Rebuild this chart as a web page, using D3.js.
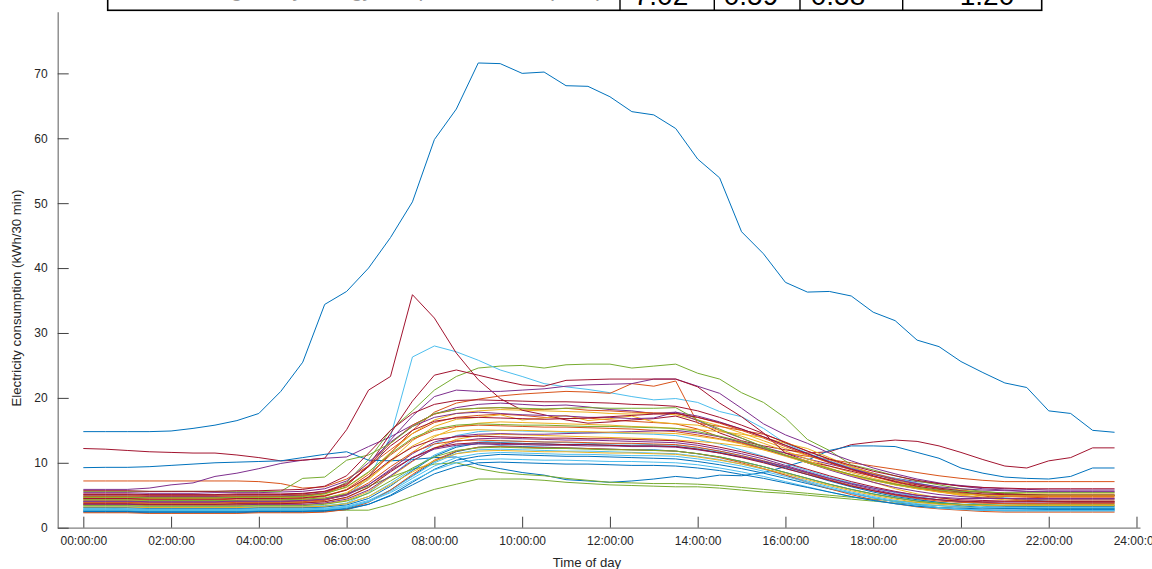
<!DOCTYPE html>
<html>
<head>
<meta charset="utf-8">
<script src="https://cdn.jsdelivr.net/npm/d3@7"></script>
<style>
  html, body { margin: 0; padding: 0; background: #fff; }
  svg { display: block; }
  text { font-family: "Liberation Sans", Arial, Helvetica, sans-serif; }
</style>
</head>
<body>
<svg id="chart" width="1152" height="569"></svg>
<script>
// Half-hourly sample times (one value per slot, 48 slots per day)
const times = ["00:00","00:30","01:00","01:30","02:00","02:30","03:00","03:30","04:00","04:30",
  "05:00","05:30","06:00","06:30","07:00","07:30","08:00","08:30","09:00","09:30",
  "10:00","10:30","11:00","11:30","12:00","12:30","13:00","13:30","14:00","14:30",
  "15:00","15:30","16:00","16:30","17:00","17:30","18:00","18:30","19:00","19:30",
  "20:00","20:30","21:00","21:30","22:00","22:30","23:00","23:30"];

const xTickLabels = ["00:00:00","02:00:00","04:00:00","06:00:00","08:00:00","10:00:00",
  "12:00:00","14:00:00","16:00:00","18:00:00","20:00:00","22:00:00","24:00:00"];
const yTickValues = [0, 10, 20, 30, 40, 50, 60, 70];

// Summary table row shown above the axes
const tableRowLabel = "Average daily energy use per customer (kWh)";
const tableRowValues = ["7.02", "0.59", "0.58", "1.20"];

// Electricity consumption profiles (kWh per 30 min), one array per customer
const s00 = [14.8,14.8,14.8,14.8,14.9,15.3,15.8,16.5,17.6,21.0,25.5,34.4,36.4,40.0,44.7,50.2,59.8,64.5,71.6,71.5,70.0,70.2,68.1,68.0,66.4,64.1,63.6,61.5,56.8,53.9,45.6,42.2,37.8,36.3,36.4,35.7,33.2,31.9,28.9,27.9,25.6,23.9,22.3,21.6,18.0,17.6,15.0,14.7];
const s01 = [7.2,7.2,7.2,7.2,7.2,7.2,7.2,7.2,7.1,6.8,6.1,6.3,7.5,9.5,12.0,14.5,16.2,17.0,17.3,17.5,17.3,17.0,16.8,16.9,16.6,16.4,16.2,16.0,15.2,14.0,13.1,12.2,11.5,11.0,10.5,10.0,9.5,9.0,8.5,8.0,7.6,7.3,7.1,7.1,7.1,7.1,7.1,7.1];
const s02 = [5.0,5.0,5.0,4.9,4.9,4.9,4.9,5.0,5.0,5.0,5.1,5.3,6.2,8.5,11.6,14.5,16.6,17.6,18.0,18.2,18.1,18.0,17.9,17.8,17.6,17.5,17.6,17.4,16.6,15.7,14.6,13.4,12.2,11.1,10.1,9.2,8.3,7.5,6.8,6.2,5.8,5.5,5.3,5.2,5.2,5.2,5.2,5.2];
const s03 = [5.9,5.9,5.9,6.1,6.6,6.9,7.9,8.4,9.1,9.9,10.4,10.7,10.9,12.5,14.0,15.8,17.5,18.5,19.0,19.2,19.0,18.8,18.9,18.6,18.2,18.0,17.6,17.8,16.5,15.0,13.8,12.4,11.5,10.6,9.8,9.0,8.2,7.6,7.1,6.8,6.5,6.2,6.0,5.9,5.8,5.8,5.8,5.8];
const s04 = [4.6,4.6,4.6,4.6,4.6,4.6,4.6,4.7,4.7,4.8,4.9,5.3,7.0,10.5,15.0,18.0,21.2,23.3,24.6,24.9,25.0,24.6,25.1,25.2,25.2,24.6,24.9,25.2,23.8,22.9,20.8,19.3,16.9,13.6,11.9,9.7,8.9,8.0,7.2,6.6,6.0,5.6,5.3,5.1,5.0,5.0,5.0,5.0];
const s05 = [4.0,4.0,4.0,4.0,4.0,4.0,4.0,4.0,4.0,4.1,4.2,4.4,5.0,7.5,14.0,26.3,28.0,27.1,25.8,24.3,23.3,22.2,21.7,21.3,20.8,20.2,19.7,19.9,19.3,17.9,17.1,15.3,13.0,11.5,10.3,9.2,8.4,7.6,6.9,6.2,5.6,5.0,4.6,4.3,4.1,4.0,4.0,4.0];
const s06 = [12.2,12.1,11.9,11.7,11.6,11.5,11.5,11.2,10.8,10.3,10.4,10.7,15.1,21.2,23.3,35.9,32.3,26.9,22.8,19.9,18.1,17.4,16.6,16.1,16.3,16.6,16.8,17.2,16.2,14.6,13.4,12.6,12.0,11.5,11.7,12.8,13.2,13.5,13.3,12.6,11.6,10.5,9.5,9.2,10.3,10.8,12.3,12.3];
const s07 = [9.25,9.3,9.3,9.4,9.6,9.8,10.0,10.1,10.2,10.3,10.8,11.3,11.7,10.4,10.3,10.5,10.8,10.9,9.7,9.1,8.5,8.1,7.4,7.2,7.0,7.2,7.5,7.9,7.6,8.1,8.0,8.5,9.4,10.4,11.9,12.6,12.6,12.5,11.6,10.7,9.2,8.4,7.8,7.6,7.5,7.9,9.2,9.2];
const s08 = [3.6,3.6,3.6,3.6,3.6,3.6,3.6,3.6,3.6,3.7,3.8,4.2,5.2,7.8,11.5,15.0,17.8,19.2,19.8,20.3,20.6,20.8,21.0,20.9,20.7,22.2,21.8,22.6,16.1,15.6,15.0,14.4,13.2,11.8,10.5,9.4,8.4,7.5,6.7,6.0,5.4,4.9,4.5,4.2,4.0,3.9,3.9,3.9];
const s09 = [4.2,4.2,4.2,4.1,4.1,4.1,4.1,4.1,4.2,4.2,4.3,4.5,5.4,7.4,10.3,13.4,15.6,16.7,17.0,17.4,16.6,16.9,17.3,16.5,16.8,17.2,16.3,16.0,15.8,15.0,14.1,13.0,11.8,10.6,9.5,8.5,7.6,6.8,6.1,5.5,5.0,4.6,4.3,4.1,4.0,4.0,4.0,4.0];
const s10 = [4.9,4.9,4.9,4.8,4.8,4.8,4.8,4.9,4.9,4.9,5.0,5.4,6.6,9.4,13.5,17.2,20.2,21.2,21.0,21.0,21.2,21.4,21.8,22.0,22.1,22.2,22.9,22.9,21.8,20.7,18.4,16.0,14.3,13.0,11.5,10.3,9.2,8.3,7.5,6.9,6.4,6.0,5.8,5.6,5.5,5.5,5.5,5.5];
const s11 = [2.7,2.7,2.7,2.7,2.7,2.7,2.7,2.7,2.7,2.7,2.7,2.7,2.7,2.7,3.6,4.8,5.9,6.7,7.5,7.5,7.5,7.3,7.0,6.8,6.6,6.5,6.4,6.3,6.3,6.1,5.8,5.5,5.3,5.0,4.7,4.4,4.1,3.8,3.6,3.4,3.2,3.1,3.0,3.0,3.0,3.0,3.0,3.0];
const s12 = [3.0,3.0,2.9,2.9,2.9,2.9,2.9,2.9,3.0,3.0,3.0,3.2,3.8,5.4,7.9,10.6,12.9,14.2,14.8,15.0,14.9,14.8,14.7,14.6,14.6,14.5,14.4,14.2,13.6,12.9,12.0,11.0,9.9,8.8,7.8,6.9,6.1,5.4,4.8,4.3,3.9,3.6,3.4,3.3,3.2,3.2,3.2,3.2];
const s13 = [5.2,5.2,5.2,5.1,5.1,5.1,5.1,5.2,5.2,5.2,5.3,5.6,6.5,9.5,14.5,19.5,23.5,24.3,23.5,22.7,22.0,21.8,22.7,22.8,22.9,22.9,22.9,22.9,21.7,19.2,17.1,14.6,11.5,10.2,9.5,8.7,7.9,7.2,6.6,6.1,5.7,5.4,5.2,5.1,5.0,5.0,5.0,5.0];
const s14 = [2.6,2.6,2.6,2.5,2.5,2.5,2.5,2.5,2.6,2.6,2.6,2.7,3.0,4.0,5.8,8.0,10.2,11.7,12.4,12.6,12.5,12.4,12.3,12.2,12.1,12.0,12.0,11.8,11.4,10.9,10.2,9.4,8.5,7.6,6.7,5.9,5.2,4.6,4.1,3.7,3.4,3.1,3.0,2.9,2.8,2.8,2.8,2.8];
const s15 = [4.8,4.8,4.8,4.7,4.7,4.7,4.7,4.8,4.8,4.8,4.9,5.3,6.6,9.6,13.0,15.8,17.5,18.2,18.4,18.5,18.3,18.2,18.4,18.1,18.0,17.8,17.7,17.6,17.0,16.1,15.0,13.8,12.5,11.2,10.0,8.9,7.9,7.0,6.3,5.7,5.3,5.0,4.8,4.7,4.6,4.6,4.6,4.6];
const s16 = [3.8,3.8,3.8,3.7,3.7,3.7,3.7,3.7,3.8,3.8,3.9,4.0,4.6,6.2,8.8,11.6,14.0,15.5,16.1,16.3,16.2,16.1,16.0,15.9,15.8,15.6,15.5,15.3,15.1,14.8,14.4,13.9,13.0,12.2,10.8,9.4,8.3,7.3,6.4,5.6,5.0,4.7,4.5,4.4,4.3,4.3,4.3,4.3];
const s17 = [5.4,5.4,5.4,5.3,5.3,5.3,5.4,5.4,5.4,5.5,5.6,6.0,7.2,10.0,13.2,15.6,17.0,17.6,17.8,17.6,17.4,17.3,17.2,17.0,17.0,16.8,16.9,17.8,17.2,16.3,15.2,14.0,12.7,11.4,10.2,9.1,8.2,7.4,6.8,6.3,6.0,5.8,5.7,5.6,5.6,5.6,5.6,5.6];
const s18 = [5.6,5.6,5.6,5.6,5.6,5.6,5.6,5.6,5.6,5.6,7.6,7.8,10.4,11.2,13.0,15.6,17.6,18.2,18.4,18.5,18.4,18.3,18.4,18.5,18.4,18.4,18.4,18.5,16.6,15.2,13.8,12.5,11.2,10.0,9.0,8.1,7.3,6.6,6.0,5.6,5.3,5.1,5.0,5.0,5.0,5.0,5.0,5.0];
const s19 = [3.3,3.3,3.3,3.2,3.2,3.2,3.2,3.2,3.3,3.3,3.3,3.4,3.7,4.8,6.8,9.0,11.2,12.6,13.2,13.4,13.3,13.2,13.1,13.0,12.9,12.9,12.8,12.7,12.3,11.8,11.1,10.3,9.4,8.4,7.4,6.5,5.7,5.0,4.4,3.9,3.5,3.3,3.1,3.0,3.0,3.0,3.0,3.0];
const s20 = [5.7,5.7,5.7,5.6,5.6,5.6,5.6,5.7,5.7,5.8,5.9,6.4,8.0,11.5,15.0,17.6,19.0,19.6,19.7,19.6,19.5,19.4,19.4,19.3,19.2,19.0,18.9,18.7,18.0,17.0,15.8,14.5,13.1,11.8,10.6,9.6,8.7,8.0,7.3,6.8,6.4,6.2,6.1,6.0,6.0,6.0,6.0,6.0];
const s21 = [2.4,2.4,2.4,2.3,2.3,2.3,2.3,2.3,2.4,2.4,2.4,2.5,2.8,3.6,5.0,7.0,9.0,10.4,11.0,11.3,11.2,11.1,11.0,11.0,10.9,10.8,10.7,10.6,10.2,9.7,9.1,8.4,7.6,6.8,6.0,5.3,4.6,4.0,3.5,3.1,2.9,2.7,2.6,2.6,2.6,2.6,2.6,2.6];
const s22 = [4.4,4.4,4.4,4.3,4.3,4.3,4.3,4.4,4.4,4.4,4.5,4.8,5.9,8.2,11.2,13.6,15.0,15.6,15.8,15.7,15.6,15.5,15.5,15.4,15.3,15.2,15.0,14.8,14.3,13.7,13.0,12.1,11.1,10.1,9.1,8.2,7.4,6.7,6.1,5.6,5.2,5.0,4.9,4.8,4.8,4.8,4.8,4.8];
const s23 = [3.5,3.5,3.5,3.4,3.4,3.4,3.4,3.4,3.5,3.5,3.5,3.7,4.2,5.6,7.8,10.2,12.3,13.6,14.2,14.4,14.3,14.2,14.1,14.0,13.9,13.8,13.7,13.5,13.3,13.0,12.6,12.0,11.2,10.3,9.2,8.1,7.0,6.0,5.2,4.6,4.1,3.8,3.7,3.6,3.6,3.6,3.6,3.6];
const s24 = [4.0,4.0,4.0,3.9,3.9,3.9,3.9,4.0,4.0,4.0,4.1,4.3,5.0,6.6,9.0,11.4,13.2,14.1,14.4,14.5,14.4,14.4,14.5,14.6,14.7,14.8,14.9,15.0,14.6,14.0,13.2,12.2,11.1,10.0,8.9,7.9,7.0,6.2,5.6,5.1,4.8,4.6,4.5,4.4,4.4,4.4,4.4,4.4];
const s25 = [4.3,4.3,4.3,4.2,4.2,4.2,4.2,4.2,4.3,4.3,4.4,4.6,5.2,6.4,7.8,9.0,9.8,10.0,9.1,8.5,8.2,8.0,7.6,7.3,7.0,6.9,6.8,6.8,6.7,6.5,6.2,5.9,5.6,5.3,5.0,4.7,4.4,4.1,3.9,3.7,3.6,3.5,3.4,3.4,3.4,3.4,3.4,3.4];
const s26 = [2.9,2.9,2.9,2.8,2.8,2.8,2.8,2.8,2.9,2.9,2.9,3.0,3.3,4.2,5.8,7.9,10.0,11.4,12.0,12.1,12.0,11.9,11.8,11.8,11.7,11.6,11.5,11.4,11.0,10.5,9.8,9.0,8.1,7.2,6.3,5.5,4.8,4.2,3.7,3.4,3.2,3.1,3.1,3.1,3.1,3.1,3.1,3.1];
const s27 = [5.1,5.1,5.1,5.0,5.0,5.0,5.0,5.1,5.1,5.1,5.2,5.6,6.8,9.4,12.6,15.0,16.4,16.9,17.0,16.9,16.8,16.7,16.8,16.9,17.1,17.3,17.5,17.6,17.0,16.2,15.2,14.0,12.7,11.4,10.1,9.0,8.0,7.1,6.4,5.9,5.5,5.2,5.1,5.0,5.0,5.0,5.0,5.0];
const s28 = [3.1,3.1,3.1,3.0,3.0,3.0,3.0,3.0,3.1,3.1,3.1,3.2,3.5,4.5,6.4,8.8,11.0,12.4,13.0,13.1,13.0,12.9,12.8,12.8,12.7,12.6,12.6,12.5,12.1,11.6,10.9,10.1,9.2,8.2,7.2,6.3,5.5,4.8,4.3,3.9,3.6,3.4,3.3,3.3,3.3,3.3,3.3,3.3];
const s29 = [2.3,2.3,2.3,2.2,2.2,2.2,2.2,2.2,2.3,2.3,2.3,2.4,2.8,3.9,5.8,8.2,10.4,11.8,12.4,12.5,12.4,12.3,12.3,12.2,12.1,12.0,11.9,11.8,11.4,10.8,10.0,9.1,8.1,7.0,6.0,5.1,4.3,3.7,3.2,2.9,2.7,2.5,2.4,2.4,2.4,2.4,2.4,2.4];
const s30 = [4.6,4.6,4.6,4.5,4.5,4.5,4.5,4.6,4.6,4.6,4.7,5.0,5.8,7.6,10.2,12.6,14.2,14.9,15.1,15.0,15.0,14.9,14.8,14.8,14.7,14.6,14.6,14.5,14.1,13.6,12.9,12.0,11.0,10.0,9.0,8.1,7.3,6.6,6.0,5.5,5.2,5.0,4.9,4.9,4.9,4.9,4.9,4.9];
const s31 = [3.6,3.6,3.6,3.5,3.5,3.5,3.5,3.5,3.6,3.6,3.6,3.8,4.4,5.8,8.0,10.3,12.2,13.3,13.7,13.8,13.7,13.6,13.5,13.5,13.4,13.3,13.2,13.1,12.7,12.1,11.4,10.6,9.6,8.6,7.6,6.7,5.9,5.2,4.7,4.3,4.0,3.9,3.8,3.8,3.8,3.8,3.8,3.8];
const s32 = [3.4,3.4,3.4,3.3,3.3,3.3,3.3,3.3,3.4,3.4,3.4,3.6,4.1,5.3,7.2,9.2,10.9,11.9,12.3,12.4,12.3,12.2,12.2,12.1,12.0,12.0,11.9,11.8,11.4,10.9,10.2,9.4,8.5,7.6,6.7,5.9,5.2,4.6,4.1,3.8,3.6,3.5,3.5,3.5,3.5,3.5,3.5,3.5];
const s33 = [2.8,2.8,2.8,2.7,2.7,2.7,2.7,2.7,2.8,2.8,2.8,2.9,3.2,4.0,5.4,7.2,8.9,10.0,10.5,10.6,10.5,10.4,10.4,10.3,10.2,10.2,10.1,10.0,9.7,9.2,8.6,7.9,7.1,6.3,5.5,4.8,4.2,3.7,3.3,3.0,2.8,2.7,2.7,2.7,2.7,2.7,2.7,2.7];
const s34 = [4.5,4.5,4.5,4.4,4.4,4.4,4.4,4.5,4.5,4.5,4.6,4.9,5.8,7.8,10.4,12.4,13.6,14.0,14.1,14.0,13.9,13.8,13.8,13.7,13.7,13.6,13.5,13.4,13.0,12.4,11.7,10.9,10.0,9.0,8.0,7.1,6.3,5.6,5.0,4.6,4.3,4.2,4.1,4.1,4.1,4.1,4.1,4.1];
const s35 = [2.5,2.5,2.5,2.4,2.4,2.4,2.4,2.4,2.5,2.5,2.5,2.6,2.9,3.6,4.9,6.6,8.3,9.4,10.0,10.1,10.0,9.9,9.8,9.8,9.7,9.6,9.6,9.5,9.2,8.8,8.2,7.6,6.9,6.2,5.5,4.8,4.2,3.7,3.3,3.1,3.0,2.9,2.9,2.9,2.9,2.9,2.9,2.9];
const s36 = [3.9,3.9,3.9,3.8,3.8,3.8,3.8,3.9,3.9,3.9,4.0,4.3,5.1,6.9,9.4,11.6,12.9,13.4,13.5,13.4,13.3,13.2,13.2,13.1,13.0,13.0,12.9,12.8,12.4,11.8,11.1,10.3,9.4,8.4,7.4,6.5,5.7,5.0,4.5,4.1,3.9,3.8,3.7,3.7,3.7,3.7,3.7,3.7];
const s37 = [3.2,3.2,3.2,3.1,3.1,3.1,3.1,3.1,3.2,3.2,3.2,3.3,3.7,4.8,6.6,8.6,10.3,11.4,11.8,11.9,11.8,11.7,11.7,11.6,11.5,11.5,11.4,11.3,10.9,10.4,9.8,9.1,8.3,7.4,6.5,5.7,5.0,4.4,3.9,3.6,3.5,3.4,3.4,3.4,3.4,3.4,3.4,3.4];
const s38 = [4.1,4.1,4.1,4.0,4.0,4.0,4.0,4.1,4.1,4.1,4.2,4.4,5.1,6.6,8.8,10.8,12.1,12.7,12.9,12.8,12.8,12.7,12.7,12.6,12.6,12.5,12.5,12.4,12.0,11.5,10.9,10.2,9.4,8.5,7.6,6.8,6.1,5.5,5.0,4.7,4.5,4.5,4.5,4.5,4.5,4.5,4.5,4.5];
const s39 = [4.7,4.7,4.7,4.6,4.6,4.6,4.6,4.7,4.7,4.7,4.8,5.2,6.3,8.6,11.4,13.8,15.2,15.8,16.0,15.9,15.8,15.8,15.7,15.6,15.6,15.5,15.4,15.3,14.8,14.1,13.3,12.3,11.2,10.1,9.1,8.2,7.4,6.7,6.2,5.8,5.6,5.5,5.4,5.4,5.4,5.4,5.4,5.4];
const s40 = [2.7,2.7,2.7,2.6,2.6,2.6,2.6,2.6,2.7,2.7,2.7,2.8,3.1,4.0,5.6,7.6,9.5,10.8,11.4,11.6,11.5,11.4,11.3,11.3,11.2,11.1,11.1,11.0,10.6,10.1,9.5,8.7,7.9,7.0,6.1,5.3,4.6,4.0,3.5,3.1,2.9,2.7,2.6,2.6,2.6,2.6,2.6,2.6];
const s41 = [3.7,3.7,3.7,3.6,3.6,3.6,3.6,3.7,3.7,3.7,3.8,4.0,4.7,6.2,8.6,10.8,12.3,12.9,13.1,13.0,12.9,12.9,12.8,12.8,12.7,12.6,12.6,12.5,12.1,11.5,10.8,10.0,9.1,8.2,7.3,6.4,5.7,5.1,4.6,4.3,4.1,4.0,4.0,4.0,4.0,4.0,4.0,4.0];

const profiles = [s00,s01,s02,s03,s04,s05,s06,s07,s08,s09,s10,s11,s12,s13,s14,s15,s16,s17,s18,s19,s20,
  s21,s22,s23,s24,s25,s26,s27,s28,s29,s30,s31,s32,s33,s34,s35,s36,s37,s38,s39,s40,s41];

// Default line colour order, cycled across the profiles
const lineColors = ["#0072BD","#D95319","#EDB120","#7E2F8E","#77AC30","#4DBEEE","#A2142F"];

const svg = d3.select("#chart");

// Hours of the day as numbers (00:30 -> 0.5)
const toHours = s => { const [h, m] = s.split(":").map(Number); return h + m / 60; };
const hoursOf = times.map(toHours);

const x = d3.scaleLinear().domain([-0.584, 24.08]).range([57.7, 1140]);
const y = d3.scaleLinear().domain([0, 79.5]).range([527.7, 11.7]);

// Summary table strip along the top edge
const table = svg.append("g");
table.append("rect")
  .attr("x", 107.7).attr("y", -20).attr("width", 934).attr("height", 30.3)
  .attr("fill", "#fff").attr("stroke", "#000").attr("stroke-width", 1.6);
[620, 714.3, 800, 902.7].forEach(cx => {
  table.append("line").attr("x1", cx).attr("x2", cx).attr("y1", -2).attr("y2", 10.3)
    .attr("stroke", "#000").attr("stroke-width", 1.4);
});
table.append("text").attr("x", 603).attr("y", -3).attr("text-anchor", "end")
  .attr("font-size", 21).attr("fill", "#9a9a9a").text(tableRowLabel);
const valueCentres = [661, 751, 838, 987];
tableRowValues.forEach((v, i) => {
  table.append("text").attr("x", valueCentres[i]).attr("y", 5).attr("text-anchor", "middle")
    .attr("font-size", 28).attr("fill", "#000").text(v);
});

// Profiles
const line = d3.line().x((d, i) => x(hoursOf[i])).y(d => y(d));
svg.append("g").selectAll("path").data(profiles).join("path")
  .attr("d", d => line(d))
  .attr("fill", "none")
  .attr("stroke", (d, i) => lineColors[i % lineColors.length])
  .attr("stroke-width", 1)
  .attr("stroke-linejoin", "round");

// Axes with inward ticks
const xAxis = d3.axisBottom(x)
  .tickValues(xTickLabels.map(toHours))
  .tickFormat((d, i) => xTickLabels[i])
  .tickSizeInner(-11).tickSizeOuter(0).tickPadding(9);
const yAxis = d3.axisLeft(y)
  .tickValues(yTickValues)
  .tickFormat(d3.format("d"))
  .tickSizeInner(-11).tickSizeOuter(0).tickPadding(10);

const gx = svg.append("g").attr("transform", `translate(0,${y(0)})`).call(xAxis);
const gy = svg.append("g").attr("transform", `translate(${x.range()[0]},0)`).call(yAxis);

[gx, gy].forEach(g => {
  g.select(".domain").attr("stroke", "#808080").attr("stroke-width", 1.3);
  g.selectAll(".tick line").attr("stroke", "#404040").attr("stroke-width", 1);
  g.selectAll(".tick text").attr("fill", "#262626").attr("font-size", 12)
    .attr("font-family", '"Liberation Sans", Arial, sans-serif');
});

// Axis titles
svg.append("text").attr("x", 587).attr("y", 567).attr("text-anchor", "middle")
  .attr("font-size", 13.2).attr("fill", "#262626").text("Time of day");
svg.append("text").attr("transform", "translate(21,298) rotate(-90)").attr("text-anchor", "middle")
  .attr("font-size", 13.2).attr("fill", "#262626").text("Electricity consumption (kWh/30 min)");
</script>
</body>
</html>
